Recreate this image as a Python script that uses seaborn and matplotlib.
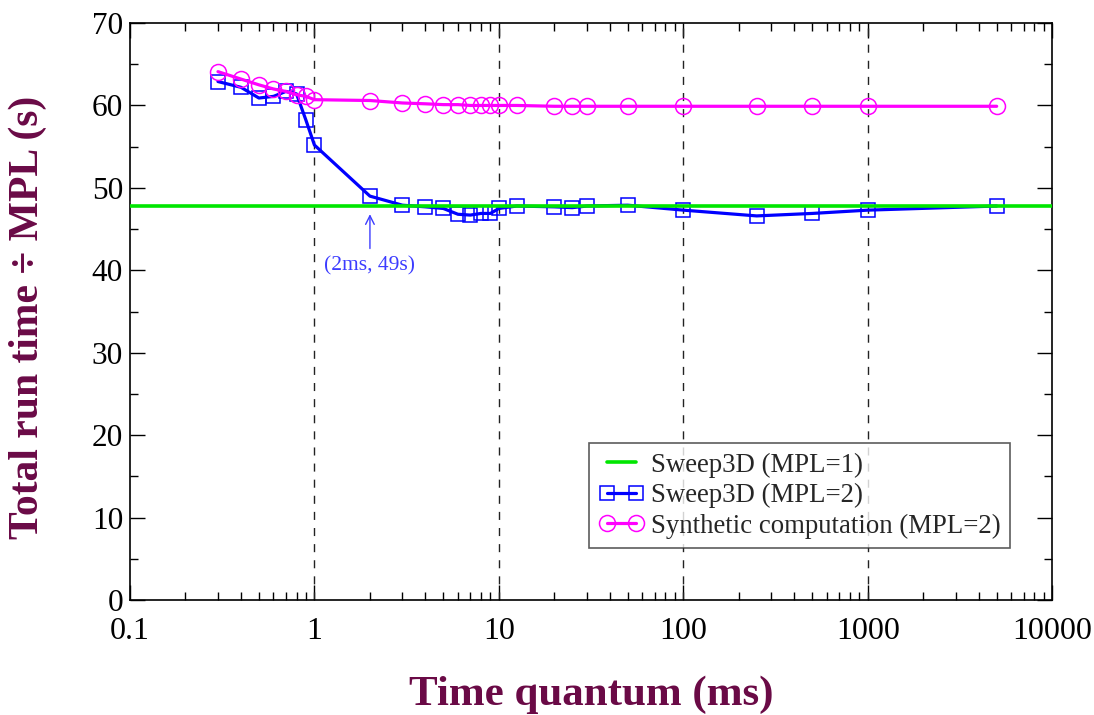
import matplotlib
matplotlib.use("Agg")
import matplotlib.pyplot as plt
import matplotlib.ticker as mticker
import seaborn as sns
import pandas as pd

# Time quantum (ms) at which each configuration was measured
quantum_ms = [0.3, 0.4, 0.5, 0.6, 0.7, 0.8, 0.9, 1, 2, 3, 4, 5, 6, 7, 8, 9, 10,
              12.5, 20, 25, 30, 50, 100, 250, 500, 1000, 5000]
# Total run time divided by MPL (s)
sweep3d_mpl2 = [62.9, 62.2, 60.9, 61.1, 61.7, 61.4, 58.2, 55.2, 49.0, 47.9, 47.7,
                47.5, 46.8, 46.7, 46.9, 46.9, 47.5, 47.8, 47.7, 47.6, 47.8, 47.9,
                47.3, 46.6, 46.9, 47.3, 47.8]
synthetic_mpl2 = [64.1, 63.2, 62.5, 62.0, 61.7, 61.3, 61.1, 60.7, 60.6, 60.3, 60.2,
                  60.1, 60.1, 60.0, 60.0, 60.0, 60.0, 60.0, 59.9, 59.9, 59.9, 59.9,
                  59.9, 59.9, 59.9, 59.9, 59.9]
sweep3d_mpl1 = 47.8

series_labels = ["Sweep3D (MPL=1)", "Sweep3D (MPL=2)", "Synthetic computation (MPL=2)"]
x_ticks = [0.1, 1, 10, 100, 1000, 10000]
x_tick_labels = ["0.1", "1", "10", "100", "1000", "10000"]
y_ticks = [0, 10, 20, 30, 40, 50, 60, 70]
note_text = "(2ms, 49s)"
note_x, note_y = 2, 49

sns.set_theme(style="ticks")
plt.rcParams["font.family"] = ["Liberation Serif", "DejaVu Serif"]

label_color = "#6a0a46"

fig = plt.figure(figsize=(10.94, 7.15), dpi=100)
ax = fig.add_axes([0.1188, 0.1608, 0.843, 0.807])

df = pd.DataFrame({"q": quantum_ms, "sweep": sweep3d_mpl2, "synth": synthetic_mpl2})

ax.axhline(sweep3d_mpl1, color="#00e600", lw=2.6, zorder=4, label=series_labels[0])

sns.lineplot(data=df, x="q", y="sweep", ax=ax, color="#0000ff", lw=2.3,
             marker="s", markersize=10, markerfacecolor="none",
             markeredgecolor="#0000ff", markeredgewidth=1.1,
             label=series_labels[1], zorder=3)
sns.lineplot(data=df, x="q", y="synth", ax=ax, color="#ff00ff", lw=2.3,
             marker="o", markersize=11.5, markerfacecolor="none",
             markeredgecolor="#ff00ff", markeredgewidth=1.1,
             label=series_labels[2], zorder=3)

ax.set_xscale("log")
ax.set_xlim(0.1, 10000)
ax.set_ylim(0, 70)
ax.set_xticks(x_ticks)
ax.set_xticklabels(x_tick_labels)
ax.xaxis.set_minor_locator(mticker.LogLocator(base=10, subs=range(2, 10), numticks=20))
ax.xaxis.set_minor_formatter(mticker.NullFormatter())
ax.set_yticks(y_ticks)
ax.yaxis.set_minor_locator(mticker.MultipleLocator(5))

ax.tick_params(which="both", direction="in", top=True, right=True, colors="black",
               width=1.0)
ax.tick_params(which="major", length=11)
ax.tick_params(which="minor", length=5.5)
ax.tick_params(axis="x", which="major", pad=12.5, labelsize=23)
ax.tick_params(axis="y", which="major", pad=5, labelsize=22.5)
for s in ax.spines.values():
    s.set_color("black")
    s.set_linewidth(1.2)

for xv in x_ticks[1:-1]:
    ax.axvline(xv, color="#222222", lw=1.0, ls=(0, (5.8, 5.8)), zorder=1)

ax.set_xlabel("Time quantum (ms)", fontsize=31, fontweight="bold", color=label_color)
ax.set_ylabel("Total run time ÷ MPL (s)", fontsize=30, fontweight="bold",
              color=label_color)
ax.xaxis.set_label_coords(0.5, -0.13)
ax.yaxis.set_label_coords(-0.09, 0.49)

ax.annotate(note_text, xy=(note_x, note_y), xytext=(0, -50),
            textcoords="offset points", ha="center", va="center",
            fontsize=15.5, color="#3c3cff",
            arrowprops=dict(arrowstyle="->", color="#3c3cff", lw=1.0,
                            shrinkA=3, shrinkB=13))

leg = ax.legend(loc="lower right", bbox_to_anchor=(0.954, 0.09), numpoints=2,
                fontsize=19.3, frameon=True, fancybox=False, handlelength=1.7,
                handletextpad=0.25, borderpad=0.35, labelspacing=0.2,
                borderaxespad=0)
leg.get_frame().set_edgecolor("#333333")
leg.get_frame().set_linewidth(1.2)

fig.savefig("out.png", dpi=100)
